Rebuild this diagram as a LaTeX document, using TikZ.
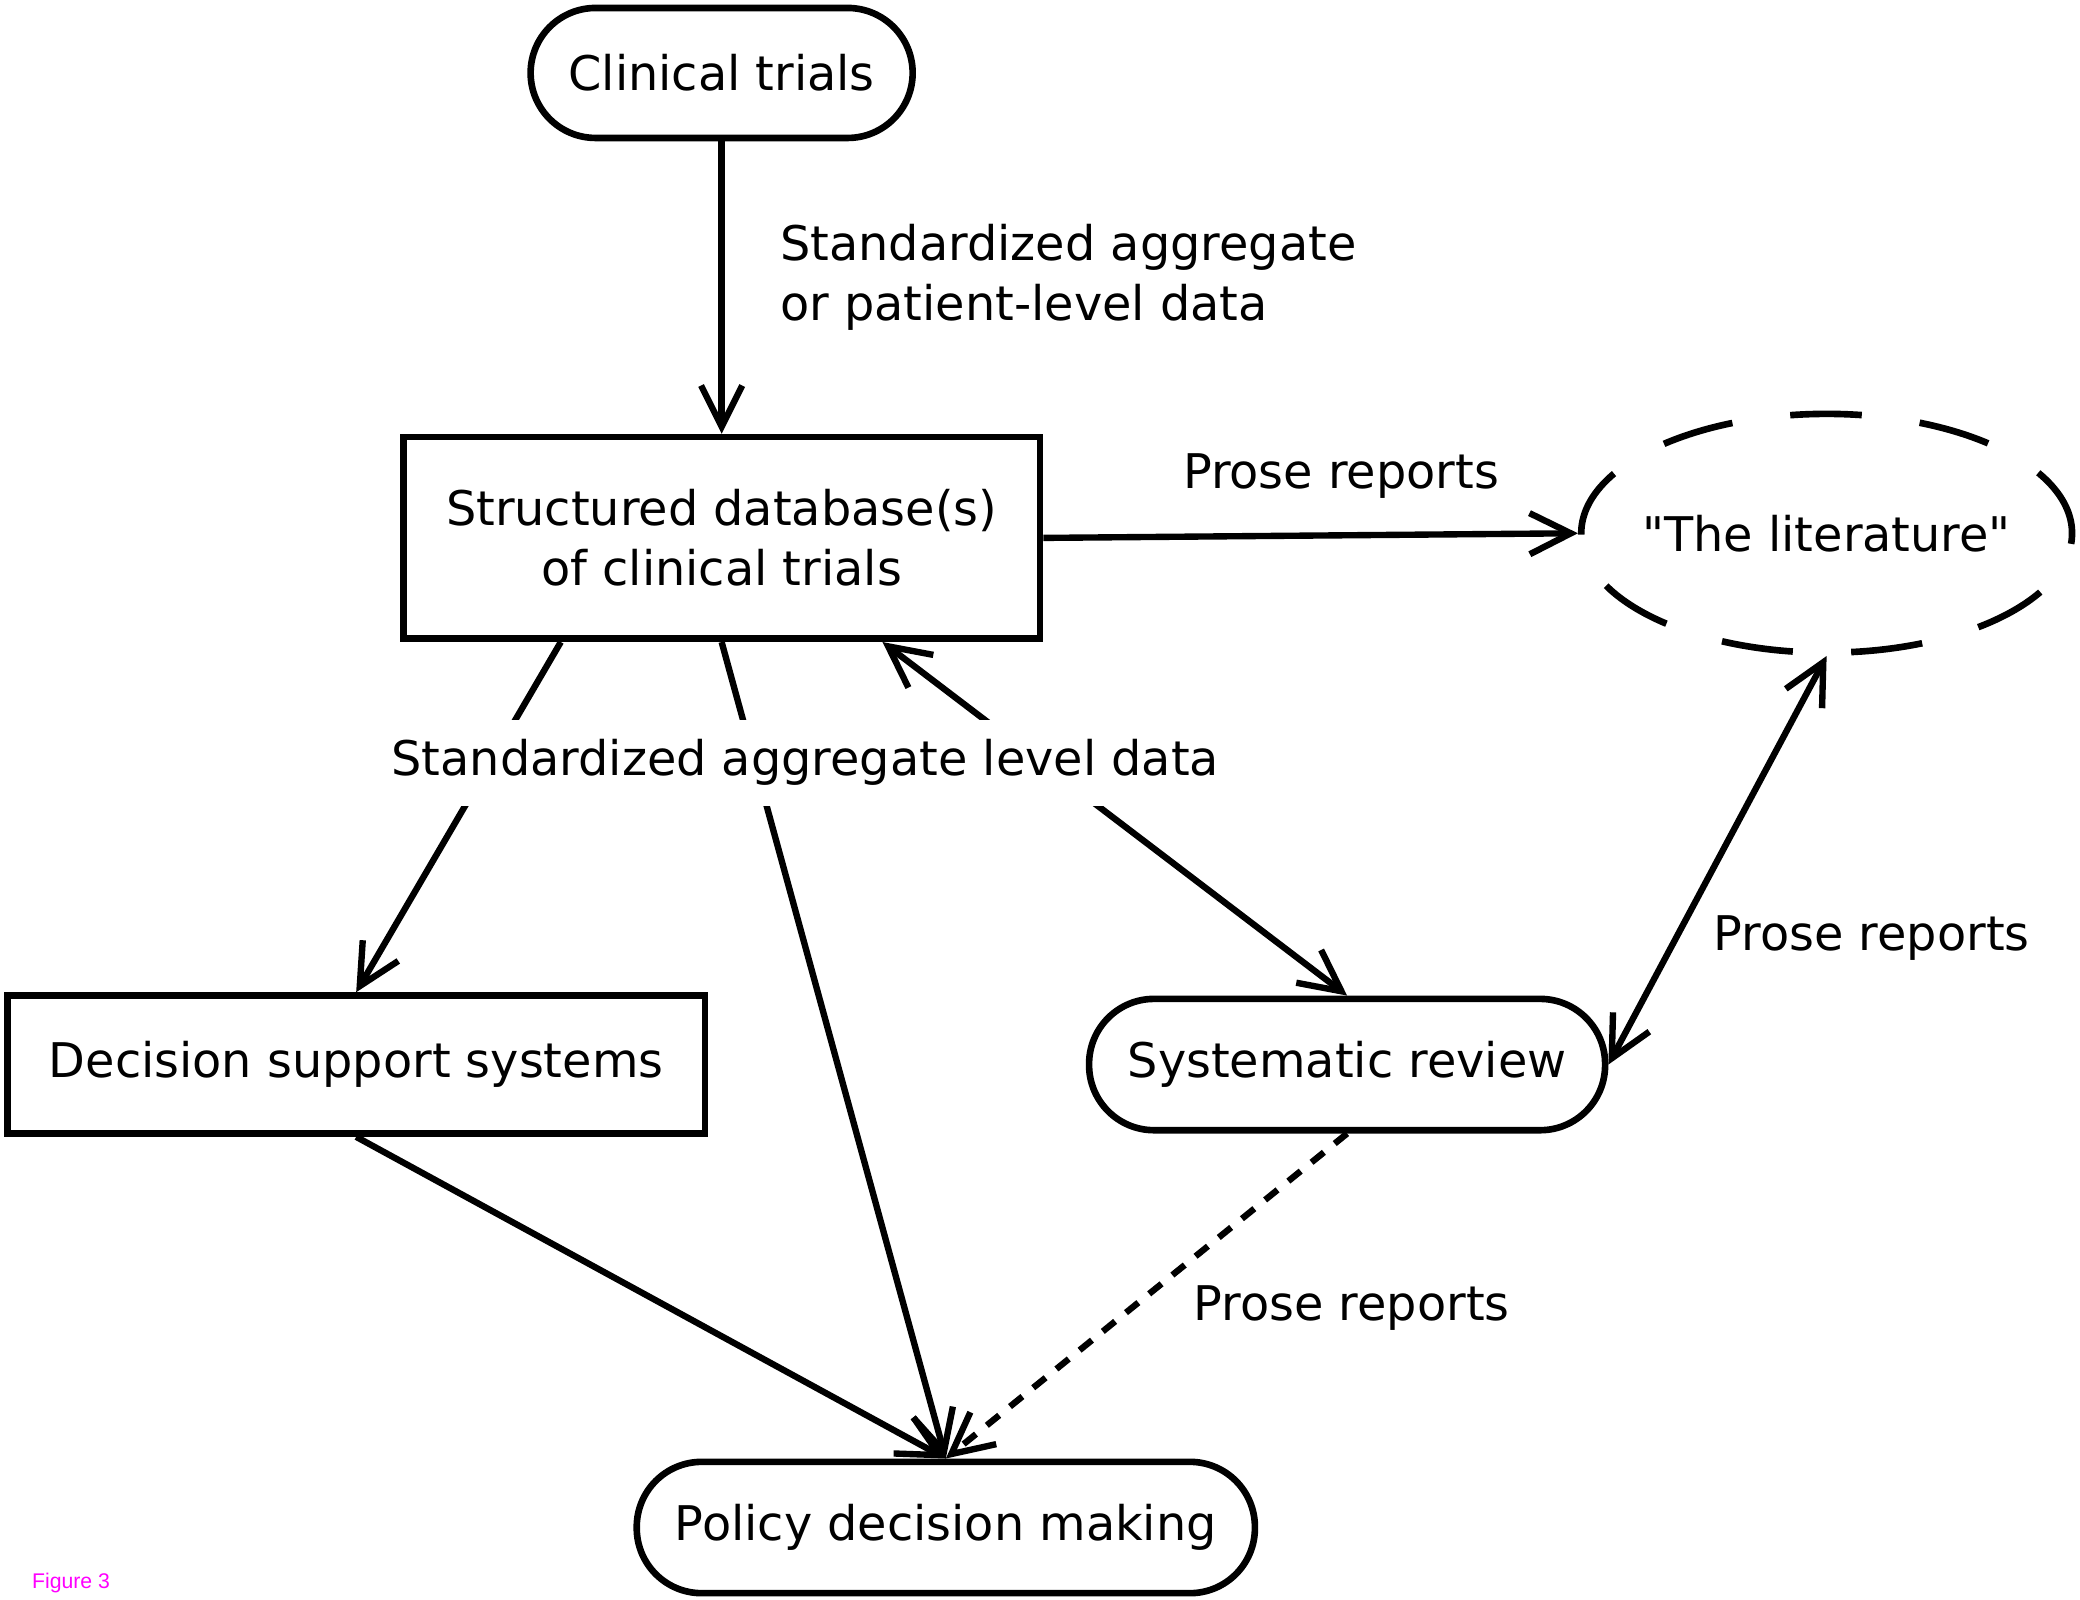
\documentclass[tikz,border=0pt]{standalone}
\usepackage{fontspec}
\setmainfont{DejaVu Sans}[Ligatures=TeXOff]
\newfontfamily\figfont{Liberation Sans}
\usetikzlibrary{arrows.meta,shapes.geometric,calc}
\definecolor{figmag}{RGB}{255,0,255}
\begin{document}
\begin{tikzpicture}[x=1pt,y=-1pt,
  every node/.style={font=\fontsize{36}{45}\selectfont},
  rectbox/.style={draw, line width=5pt, inner sep=0pt, align=center},
  pill/.style={draw, line width=5pt, rounded corners=49pt, inner sep=0pt},
  cloud/.style={draw, ellipse, line width=5pt, inner sep=0pt, dash pattern=on 54pt off 44pt},
  barb/.tip={Straight Barb[length=31pt,width=31pt]},
  conn/.style={line width=4.8pt, -barb},
  dconn/.style={line width=4.8pt, barb-barb},
  dotconn/.style={conn, dash pattern=on 12pt off 10.5pt},
  lbl/.style={inner sep=0pt},
  cover/.style={fill=white, inner xsep=6pt, inner ysep=15pt}]
\useasboundingbox (0,0) rectangle (1568,1206);

\node[pill, minimum width=288pt, minimum height=98pt] (ct) at (544,55) {Clinical trials};
\node[rectbox, minimum width=480pt, minimum height=152pt] (db) at (544,405.5) {Structured database(s)\\of clinical trials};
\node[cloud, minimum width=370pt, minimum height=180pt] (lit) at (1377,402) {\makebox[0pt]{"The literature"}};
\node[rectbox, minimum width=526pt, minimum height=104pt] (dss) at (268.5,802.5) {Decision support systems};
\node[pill, minimum width=389pt, minimum height=99pt] (sr) at (1015.5,802.5) {Systematic review};
\node[pill, minimum width=466pt, minimum height=99pt] (pdm) at (713,1151.5) {Policy decision making};

\coordinate (dbL) at ($(db.south west)!0.25!(db.south east)$);
\coordinate (dbR) at ($(db.south west)!0.75!(db.south east)$);

\draw[conn] (ct.south) -- (db.north);
\draw[conn] (db.east) -- (lit.west);
\draw[conn] (dbL) -- (dss.north);
\draw[conn] (db.south) -- (pdm.north);
\draw[dconn] (dbR) -- (sr.north);
\draw[dconn] (lit.south) -- (sr.east);
\draw[conn] (dss.south) -- (pdm.north);
\draw[dotconn] (sr.south) -- (pdm.north);

\node[lbl, anchor=west, align=left] (l1) at (588,209) {Standardized aggregate\\or patient-level data};
\node[lbl] (l2) at (1011,359) {Prose reports};
\node[lbl] (l3) at (1411,707) {Prose reports};
\node[lbl] (l4) at (1019,986) {Prose reports};
\node[cover] (l5) at (607,575) {Standardized aggregate level data};
\node[lbl, anchor=west, text=figmag, font=\figfont\fontsize{16}{19}\selectfont] (fig) at (24,1193) {Figure 3};
\end{tikzpicture}
\end{document}
